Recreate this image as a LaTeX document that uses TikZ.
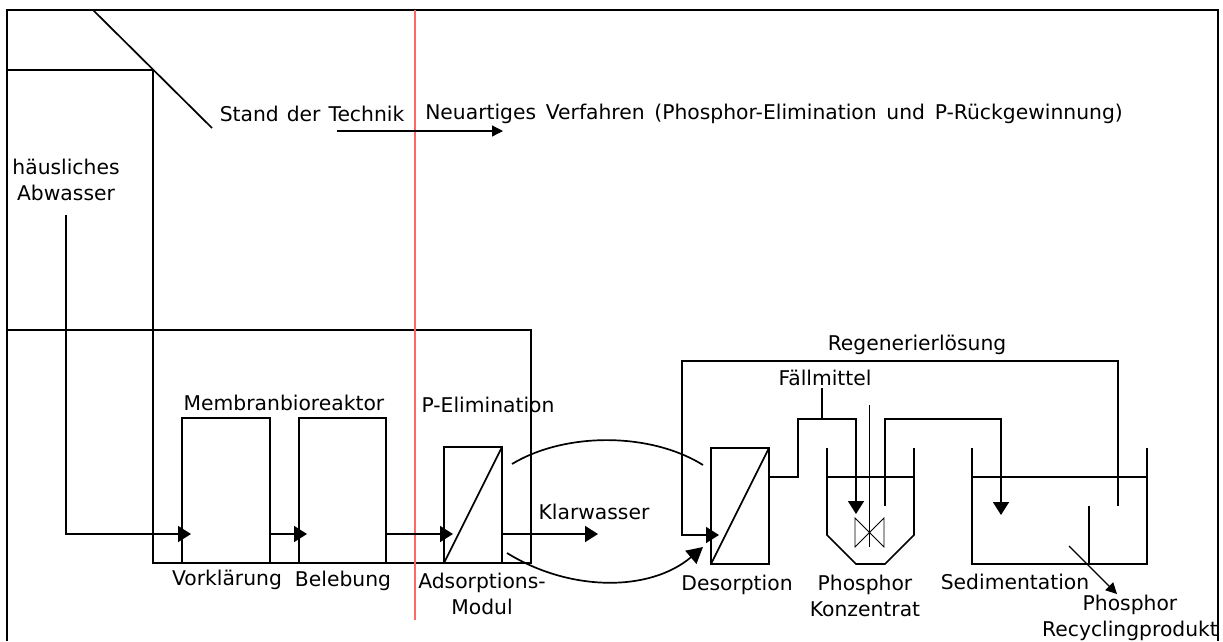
\documentclass[tikz,border=0pt]{standalone}
\usepackage{fontspec}
\setmainfont{DejaVu Sans}
\usepackage{tikz}
\usetikzlibrary{arrows.meta,positioning,calc}

\begin{document}
\begin{tikzpicture}[
    x=1pt, y=-1pt,
    procbox/.style={rectangle, draw, line width=1.7pt, inner sep=0pt, outer sep=0pt, anchor=north west},
    lbl/.style={font=\fontsize{20.3}{26}\selectfont, inner sep=0pt, align=center},
    pipe/.style={line width=1.7pt},
    flow/.style={line width=1.7pt, -{Triangle[length=13pt,width=16pt]}},
    thinline/.style={line width=0.8pt}
]
\useasboundingbox (0,0) rectangle (1223,641);

% frame and outer lines
\coordinate (frameBL) at (7,641);
\coordinate (frameTL) at (7,10);
\coordinate (frameTR) at (1218,10);
\coordinate (frameBR) at (1218,641);
\draw[line width=2.2pt] (frameBL) -- (frameTL) -- (frameTR) -- (frameBR);
\coordinate (diagA) at (93,10);
\coordinate (diagB) at (212,128);
\draw[pipe] (diagA) -- (diagB);
\coordinate (headL) at (7,70);
\coordinate (headR) at (153,70);
\coordinate (headB) at (153,563);
\coordinate (midL) at (7,330);
\coordinate (midR) at (531,330);
\coordinate (midB) at (531,563);
\draw[pipe] (headL) -- (headR) -- (headB) -- (midB) -- (midR) -- (midL);
\coordinate (sepT) at (415,10);
\coordinate (sepB) at (415,620);
\draw[line width=1.2pt, red!60] (sepT) -- (sepB);

% header
\node[lbl] (stand) at (312,114) {\spaceskip=8pt Stand der Technik};
\node[lbl] (neu) at (774,114) {\spaceskip=9.7pt Neuartiges Verfahren (Phosphor-Elimination und P-Rückgewinnung)};
\coordinate (headA) at (337,131);
\coordinate (headC) at (503,131);
\draw[line width=1.2pt, -{Triangle[length=11pt,width=11pt]}] (headA) -- (headC);

% process boxes
\node[procbox, minimum width=88pt, minimum height=145pt] (vorkl) at (182,418) {};
\node[procbox, minimum width=87pt, minimum height=145pt] (beleb) at (299,418) {};
\node[procbox, minimum width=58pt, minimum height=116pt] (adsmod) at (444,447) {};
\node[procbox, minimum width=58pt, minimum height=116pt] (desmod) at (711,448) {};
\draw[pipe] (adsmod.south west) -- (adsmod.north east);
\draw[pipe] (desmod.south west) -- (desmod.north east);

% labels
\node[lbl] (abw) at (66,180) {häusliches\\Abwasser};
\node[lbl] (mbr) at (284,403) {Membranbioreaktor};
\node[lbl] (pelim) at (488,405) {P-Elimination};
\node[lbl] (vorkllbl) at (227,580) {Vorklärung};
\node[lbl] (beleblbl) at (343,581) {Belebung};
\node[lbl] (adslbl) at (482,594) {Adsorptions-\\Modul};
\node[lbl] (klar) at (594,512) {Klarwasser};
\node[lbl] (regen) at (917,345) {Regenerierlösung};
\node[lbl] (faell) at (825,378) {Fällmittel};
\node[lbl] (deslbl) at (737,585) {Desorption};
\node[lbl] (konz) at (865,596) {Phosphor\\Konzentrat};
\node[lbl] (sedlbl) at (1015,582) {Sedimentation};
\node[lbl] (recyc) at (1130,618) {Phosphor\\Recyclingprodukt};

% main flow
\coordinate (vorklIn) at (191,534);
\coordinate (belebIn) at (307,534);
\coordinate (adsIn) at (453,534);
\coordinate (klarEnd) at (598,534);
\draw[flow] (abw.south) ++(0,14) |- (vorklIn);
\draw[flow] (vorkl.east |- vorklIn) -- (belebIn);
\draw[flow] (beleb.east |- belebIn) -- (adsIn);
\draw[flow] (adsmod.east |- adsIn) -- (klarEnd);

% curves between the modules
\coordinate (adsUp) at (512,464);
\coordinate (desUp) at (703,465);
\coordinate (adsLow) at (507,553);
\coordinate (desLow) at (703,547);
\draw[pipe] (adsUp) .. controls (565,432) and (650,432) .. (desUp);
\draw[pipe, -{Triangle[length=16pt,width=17pt]}] (adsLow) .. controls (570,592) and (650,592) .. (desLow);

% reactor
\coordinate (reacTL) at (827,448);
\coordinate (reacL) at (827,535);
\coordinate (reacBL) at (856,564);
\coordinate (reacBR) at (885,564);
\coordinate (reacR) at (914,535);
\coordinate (reacTR) at (914,448);
\draw[pipe] (reacTL) -- (reacL) -- (reacBL) -- (reacBR) -- (reacR) -- (reacTR);
\coordinate (reacLevL) at (827,477);
\coordinate (reacLevR) at (914,477);
\draw[pipe] (reacLevL) -- (reacLevR);
\coordinate (stirT) at (869,405);
\coordinate (stirB) at (869,547);
\draw[thinline] (stirT) -- (stirB);
\coordinate (bladeA) at (855,518);
\coordinate (bladeB) at (855,547);
\coordinate (bladeC) at (884,518);
\coordinate (bladeD) at (884,547);
\draw[thinline] (bladeA) -- (bladeD) -- (bladeC) -- (bladeB) -- cycle;

% sedimentation tank
\coordinate (sedTL) at (972,448);
\coordinate (sedBL) at (972,564);
\coordinate (sedBR) at (1147,564);
\coordinate (sedTR) at (1147,448);
\draw[pipe] (sedTL) -- (sedBL) -- (sedBR) -- (sedTR);
\coordinate (sedLevL) at (972,477);
\coordinate (sedLevR) at (1147,477);
\draw[pipe] (sedLevL) -- (sedLevR);
\coordinate (baffleT) at (1089,506);
\coordinate (baffleB) at (1089,564);
\draw[pipe] (baffleT) -- (baffleB);

% pipes on the right
\coordinate (regenIn) at (1118,506);
\coordinate (regenTR) at (1118,361);
\coordinate (regenTL) at (682,361);
\coordinate (regenEnd) at (719,535);
\draw[flow] (regenIn) -- (regenTR) -- (regenTL) |- (regenEnd);
\coordinate (faellJoin) at (822,419);
\coordinate (faellL) at (798,419);
\coordinate (faellLow) at (798,477);
\coordinate (faellR) at (856,419);
\coordinate (faellEnd) at (856,514);
\draw[pipe] (faell.south) ++(-3,2) -- (faellJoin);
\draw[flow] (desmod.east |- faellLow) -- (faellLow) -- (faellL) -- (faellR) -- (faellEnd);
\coordinate (outA) at (885,506);
\coordinate (outB) at (885,419);
\coordinate (outC) at (1001,419);
\coordinate (outD) at (1001,515);
\draw[flow] (outA) -- (outB) -- (outC) -- (outD);
\coordinate (recA) at (1069,546);
\coordinate (recB) at (1117,594);
\draw[line width=1.2pt, -{Triangle[length=11pt,width=11pt]}] (recA) -- (recB);
\end{tikzpicture}
\end{document}
